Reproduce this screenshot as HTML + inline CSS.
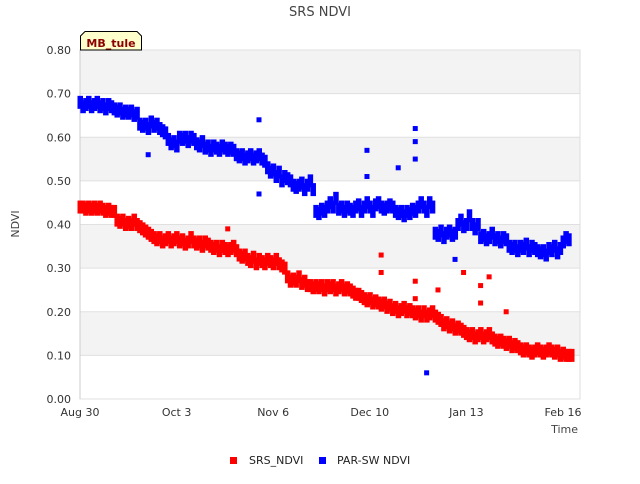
<!DOCTYPE html>
<html><head><meta charset="utf-8"><style>
body{margin:0;background:#fff;font-family:"DejaVu Sans","Liberation Sans",sans-serif;}
svg text{font-family:"DejaVu Sans","Liberation Sans",sans-serif;}
</style></head><body>
<svg id="chart" width="640" height="480" xmlns="http://www.w3.org/2000/svg">
<text x="320" y="16" text-anchor="middle" font-size="13" fill="#444">SRS NDVI</text>
<g id="grid"></g>
<g id="yticks"></g>
<g id="xticks"></g>
<g id="marks"></g>
<text transform="translate(19,224) rotate(-90)" text-anchor="middle" font-size="11" fill="#444">NDVI</text>
<text x="578" y="433" text-anchor="end" font-size="11" fill="#444">Time</text>
<g>
<path d="M80.5,50 L80.5,36 L85,31.5 L137,31.5 L141.5,36 L141.5,50 Z" fill="#ffffcc" stroke="#000"/>
<text x="111" y="47" text-anchor="middle" font-size="11" font-weight="bold" fill="#8b0000">MB_tule</text>
</g>
<g>
<g><rect x="230" y="457" width="7" height="7" fill="#f00"/><text x="249" y="464" font-size="11" fill="#222">SRS_NDVI</text></g>
<g><rect x="319" y="457" width="7" height="7" fill="#00f"/><text x="337" y="464" font-size="11" fill="#222">PAR-SW NDVI</text></g>
</g>
</svg>
<script>
const yTicks=[0,0.1,0.2,0.3,0.4,0.5,0.6,0.7,0.8];
const xTickDays=[0,34,68,102,136,170];
const xTickLabels=["Aug 30","Oct 3","Nov 6","Dec 10","Jan 13","Feb 16"];
const srsValues=[0.44,0.44,0.435,0.44,0.435,0.44,0.435,0.44,0.435,0.43,0.435,0.43,0.43,0.41,0.405,0.41,0.40,0.405,0.40,0.41,0.40,0.395,0.39,0.385,0.38,0.375,0.37,0.365,0.37,0.36,0.365,0.37,0.36,0.365,0.37,0.36,0.365,0.355,0.36,0.37,0.36,0.355,0.36,0.35,0.36,0.355,0.35,0.345,0.35,0.34,0.35,0.345,0.34,0.345,0.35,0.34,0.33,0.325,0.33,0.32,0.315,0.325,0.31,0.32,0.315,0.31,0.32,0.315,0.31,0.32,0.31,0.305,0.30,0.28,0.27,0.275,0.27,0.28,0.265,0.27,0.26,0.26,0.255,0.26,0.255,0.26,0.25,0.26,0.255,0.26,0.25,0.255,0.26,0.25,0.255,0.25,0.245,0.24,0.24,0.235,0.23,0.225,0.23,0.22,0.225,0.22,0.215,0.22,0.21,0.215,0.205,0.21,0.20,0.205,0.21,0.20,0.205,0.20,0.195,0.20,0.19,0.20,0.19,0.195,0.20,0.19,0.185,0.18,0.17,0.175,0.165,0.17,0.16,0.165,0.16,0.155,0.15,0.145,0.15,0.14,0.145,0.15,0.14,0.145,0.15,0.14,0.135,0.13,0.135,0.13,0.125,0.13,0.12,0.125,0.12,0.115,0.11,0.115,0.11,0.105,0.11,0.115,0.11,0.105,0.11,0.115,0.11,0.105,0.11,0.10,0.105,0.10,0.10,0.10];
const parValues=[0.68,0.67,0.675,0.68,0.67,0.675,0.68,0.67,0.675,0.665,0.675,0.67,0.665,0.66,0.665,0.655,0.66,0.655,0.66,0.65,0.655,0.63,0.625,0.63,0.62,0.635,0.625,0.63,0.62,0.615,0.61,0.595,0.585,0.59,0.58,0.60,0.595,0.60,0.59,0.60,0.595,0.585,0.58,0.59,0.575,0.58,0.57,0.58,0.575,0.57,0.58,0.575,0.57,0.575,0.57,0.56,0.555,0.56,0.55,0.555,0.56,0.55,0.555,0.56,0.55,0.545,0.53,0.52,0.525,0.51,0.52,0.50,0.51,0.505,0.50,0.49,0.485,0.49,0.495,0.48,0.49,0.50,0.48,0.43,0.425,0.435,0.43,0.44,0.45,0.44,0.46,0.435,0.44,0.43,0.44,0.435,0.43,0.44,0.445,0.43,0.44,0.45,0.44,0.43,0.445,0.45,0.44,0.435,0.44,0.445,0.44,0.43,0.425,0.43,0.42,0.43,0.425,0.435,0.43,0.44,0.45,0.44,0.43,0.45,0.44,0.38,0.375,0.385,0.37,0.38,0.385,0.375,0.38,0.40,0.41,0.395,0.40,0.42,0.40,0.39,0.40,0.37,0.375,0.365,0.37,0.38,0.365,0.37,0.36,0.37,0.365,0.35,0.345,0.35,0.34,0.35,0.345,0.355,0.34,0.35,0.345,0.34,0.335,0.34,0.33,0.345,0.34,0.35,0.335,0.345,0.36,0.37,0.365];
const srsOutDays=[52,106,106,118,118,126,135,141,141,144,150];
const srsOutValues=[0.39,0.33,0.29,0.27,0.23,0.25,0.29,0.26,0.22,0.28,0.20];
const parOutDays=[24,63,63,101,101,112,118,118,118,122,132];
const parOutValues=[0.56,0.64,0.47,0.57,0.51,0.53,0.62,0.59,0.55,0.06,0.32];
const NS="http://www.w3.org/2000/svg";
const x0=80,x1=580,y0=399,y1=50;
function xs(d){return x0+d*(563-80)/170;}
function ys(v){return y0-(v/0.8)*(y0-y1);}
function mk(tag,attrs,parent){const e=document.createElementNS(NS,tag);for(const k in attrs)e.setAttribute(k,attrs[k]);parent.appendChild(e);return e;}
const grid=document.getElementById('grid'),yt=document.getElementById('yticks'),xt=document.getElementById('xticks'),marks=document.getElementById('marks');
for(let i=0;i<yTicks.length-1;i++){
  if(i%2===1){const b=mk('rect',{x:x0,y:ys(yTicks[i+1]),width:x1-x0,height:ys(yTicks[i])-ys(yTicks[i+1]),fill:'#f3f3f3'},grid);
  
  }
}
mk('rect',{x:x0,y:y1,width:x1-x0,height:y0-y1,fill:'none',stroke:'#ddd'},grid);
yTicks.forEach(v=>{
  const l=mk('line',{x1:x0,x2:x1,y1:ys(v),y2:ys(v),stroke:'#e0e0e0'},grid);
  
  
  const t=mk('text',{x:71,y:ys(v)+4,'text-anchor':'end','font-size':'11',fill:'#333'},yt);
  
  
  t.textContent=v.toFixed(2);
});
xTickDays.forEach((d,i)=>{
  const t=mk('text',{x:xs(d),y:416,'text-anchor':'middle','font-size':'11',fill:'#333'},xt);
  
  
  t.textContent=xTickLabels[i];
});
mk('line',{x1:x0,x2:x0,y1:y1,y2:y0,stroke:'#ccc'},xt);
function band(vals,color,name){
  vals.forEach((v,d)=>{
    const r=mk('rect',{x:xs(d)-2.5,y:ys(v)-6.5,width:5.5,height:13,fill:color},marks);
    
    
  });
}
function pts(days,vals,color,name){
  days.forEach((d,i)=>{
    const r=mk('rect',{x:xs(d)-2.5,y:ys(vals[i])-2.5,width:5,height:5,fill:color},marks);
    
    
  });
}
band(parValues,'#0000ff','par-point');
pts(parOutDays,parOutValues,'#0000ff','par-outlier');
band(srsValues,'#ff0000','srs-point');
pts(srsOutDays,srsOutValues,'#ff0000','srs-outlier');
</script>
</body></html>
